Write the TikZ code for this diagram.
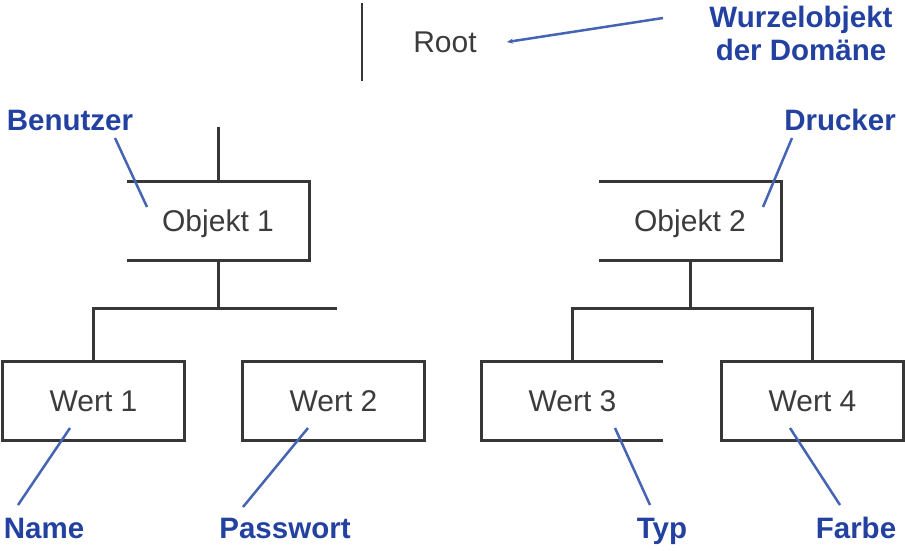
\documentclass[tikz,border=0pt]{standalone}
\usepackage{fontspec}
\setmainfont{Liberation Sans}
\usetikzlibrary{arrows.meta,calc}
\definecolor{lblue}{RGB}{35,65,160}
\definecolor{lline}{RGB}{70,100,180}
\definecolor{boxline}{RGB}{55,55,55}
\definecolor{boxtext}{RGB}{60,60,60}
\tikzset{
  box/.style={inner sep=0pt, minimum width=181pt, minimum height=78pt,
    text height=21pt, text depth=0pt, text=boxtext,
    font=\fontsize{30}{36}\selectfont},
  edge/.style={draw=boxline, line width=3pt, line cap=butt, line join=miter},
  lbl/.style={inner sep=0pt, text=lblue, font=\fontsize{29.5}{33}\selectfont\bfseries, anchor=base},
  lblline/.style={draw=lline, line width=2.5pt}
}
\begin{document}
\begin{tikzpicture}[x=1pt,y=-1pt]
\useasboundingbox (0,0) rectangle (905,550);
% nodes
\node[box, minimum width=166pt, minimum height=77pt] (root) at (445,42) {Root};
\node[box, minimum width=182pt] (o1) at (218,221) {Objekt 1};
\node[box, minimum width=182pt] (o2) at (690,221) {Objekt 2};
\node[box] (w1) at (93.5,401) {Wert 1};
\node[box] (w2) at (333.5,401) {Wert 2};
\node[box] (w3) at (572.5,401) {Wert 3};
\node[box] (w4) at (812.5,401) {Wert 4};
% labels
\node[lbl, align=center, anchor=north] (wurzel) at (801,6) {Wurzelobjekt\\der Domäne};
\node[lbl] (benutzer) at (70,130) {Benutzer};
\node[lbl] (drucker) at (840,130) {Drucker};
\node[lbl] (name) at (44,538) {Name};
\node[lbl] (passwort) at (285,538) {Passwort};
\node[lbl] (typ) at (662,538) {Typ};
\node[lbl] (farbe) at (856,538) {Farbe};
% box outlines (as visible)
\draw[boxline, line width=2.5pt] (root.north west) -- (root.south west);
\draw[edge] (o1.north west) -- (o1.north east) -- (o1.south east) -- (o1.south west);
\draw[edge] (o2.north west) -- (o2.north east) -- (o2.south east) -- (o2.south west);
\draw[edge] (w1.north west) rectangle (w1.south east);
\draw[edge] (w2.north west) rectangle (w2.south east);
\draw[edge] (w3.north east) -- (w3.north west) -- (w3.south west) -- (w3.south east);
\draw[edge] (w4.north west) rectangle (w4.south east);
% tree connectors
\coordinate (rj) at (218,127);
\coordinate (bus1) at (218,308);
\coordinate (bus2) at (690,308);
\draw[edge] (rj) -- (o1.north);
\draw[edge] (o1.south) -- (bus1);
\draw[edge] (w1.north) |- ($(w2.north |- bus1)+(3,0)$);
\draw[edge] (o2.south) -- (bus2);
\draw[edge] (w3.north) |- (bus2) -| (w4.north);
% label connectors
\coordinate (ra) at (507,42);
\coordinate (wa) at (663,18);
\draw[lblline, -{Stealth[length=6pt,width=5pt]}] (wa) -- (ra);
\coordinate (b1) at (115,138); \coordinate (b2) at (147,207);
\draw[lblline] (b1) -- (b2);
\coordinate (d1) at (792,138); \coordinate (d2) at (763,207);
\draw[lblline] (d1) -- (d2);
\coordinate (n1) at (18,505); \coordinate (n2) at (70,428);
\draw[lblline] (n1) -- (n2);
\coordinate (p1) at (243,507); \coordinate (p2) at (308,428);
\draw[lblline] (p1) -- (p2);
\coordinate (t1) at (650,505); \coordinate (t2) at (615,428);
\draw[lblline] (t1) -- (t2);
\coordinate (f1) at (840,505); \coordinate (f2) at (790,428);
\draw[lblline] (f1) -- (f2);
\end{tikzpicture}
\end{document}
